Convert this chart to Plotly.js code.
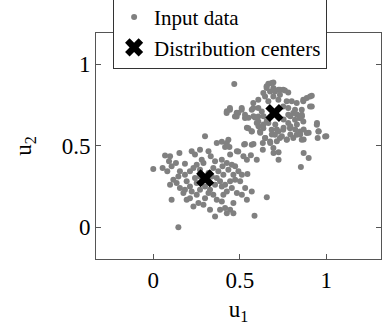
<!DOCTYPE html>
<html>
<head>
<meta charset="utf-8">
<script src="https://cdn.plot.ly/plotly-3.0.1.min.js"></script>
<style>html,body{margin:0;padding:0;background:#fff;}#chart{width:388px;height:327px;}</style>
</head>
<body>
<div id="chart"></div>
<script>
// Input data, lower cluster (u1, u2)
var lowU1 = [0.299,0.367,0.396,0.425,0.415,0.440,0.525,0.579,0.633,0.151,0.222,0.068,0.097,0.091,0.131,0.183,0.000,0.054,0.081,0.106,0.154,0.241,0.280,0.319,0.332,0.357,0.396,0.425,0.483,0.521,0.541,0.564,0.598,0.454,0.473,0.492,0.544,0.463,0.434,0.212,0.232,0.251,0.270,0.290,0.319,0.347,0.376,0.405,0.116,0.135,0.097,0.154,0.183,0.212,0.251,0.193,0.241,0.222,0.270,0.299,0.328,0.357,0.386,0.415,0.444,0.473,0.502,0.531,0.569,0.483,0.405,0.367,0.347,0.299,0.261,0.212,0.193,0.106,0.328,0.357,0.386,0.415,0.444,0.463,0.425,0.541,0.656,0.585,0.145,0.270,0.309,0.338,0.367,0.396,0.425,0.454,0.319,0.251,0.174,0.145,0.183,0.270,0.444,0.400,0.512,0.232,0.396,0.512,0.463,0.290];
var lowU2 = [0.557,0.516,0.523,0.516,0.492,0.492,0.506,0.510,0.516,0.455,0.465,0.439,0.434,0.404,0.393,0.389,0.357,0.363,0.342,0.373,0.342,0.445,0.414,0.465,0.434,0.404,0.414,0.393,0.465,0.434,0.414,0.441,0.414,0.383,0.373,0.342,0.326,0.322,0.352,0.342,0.363,0.383,0.352,0.393,0.332,0.363,0.342,0.322,0.291,0.270,0.260,0.240,0.230,0.250,0.270,0.281,0.301,0.219,0.230,0.250,0.230,0.260,0.281,0.260,0.281,0.291,0.281,0.240,0.219,0.209,0.199,0.168,0.199,0.178,0.148,0.178,0.168,0.168,0.107,0.066,0.107,0.117,0.107,0.086,0.086,0.168,0.184,0.070,0.000,0.311,0.291,0.311,0.301,0.250,0.219,0.240,0.209,0.199,0.209,0.311,0.322,0.475,0.445,0.373,0.322,0.127,0.158,0.199,0.148,0.137];
// Input data, upper cluster (u1, u2)
var highU1 = [0.425,0.483,0.550,0.579,0.598,0.637,0.541,0.569,0.618,0.685,0.676,0.714,0.743,0.772,0.792,0.820,0.849,0.869,0.898,0.946,0.956,1.000,0.869,0.869,0.898,0.853,0.695,0.724,0.724,0.633,0.637,0.656,0.705,0.753,0.792,0.830,0.859,0.792,0.753,0.714,0.830,0.647,0.608,0.983,0.468,0.684,0.655,0.694,0.723,0.751,0.665,0.694,0.655,0.675,0.703,0.732,0.761,0.780,0.732,0.694,0.646,0.607,0.665,0.723,0.771,0.800,0.829,0.867,0.916,0.887,0.906,0.858,0.819,0.780,0.751,0.578,0.569,0.607,0.627,0.511,0.491,0.443,0.424,0.472,0.530,0.607,0.780,0.809,0.858,0.848,0.482,0.530,0.588,0.607,0.665,0.636,0.617,0.549,0.569,0.684,0.723,0.751,0.790,0.780,0.819,0.848,0.867,0.887,0.848,0.829,0.858,0.809,0.771,0.732,0.703,0.675,0.646,0.694,0.954,0.950,0.993,0.945,0.434,0.491,0.530,0.569,0.636,0.578,0.443,0.511,0.482,0.867,0.906,0.916];
var highU2 = [0.711,0.701,0.670,0.680,0.639,0.629,0.609,0.588,0.578,0.568,0.516,0.527,0.557,0.537,0.568,0.598,0.568,0.598,0.578,0.639,0.588,0.557,0.537,0.455,0.424,0.369,0.455,0.459,0.414,0.475,0.680,0.650,0.629,0.660,0.680,0.691,0.680,0.619,0.609,0.598,0.629,0.547,0.619,0.996,0.877,0.883,0.863,0.853,0.842,0.842,0.879,0.887,0.853,0.832,0.832,0.842,0.838,0.826,0.812,0.801,0.801,0.781,0.771,0.781,0.771,0.771,0.761,0.771,0.806,0.791,0.740,0.720,0.720,0.730,0.740,0.761,0.720,0.730,0.709,0.720,0.699,0.720,0.699,0.679,0.669,0.679,0.689,0.699,0.689,0.669,0.679,0.689,0.672,0.648,0.638,0.607,0.587,0.607,0.587,0.597,0.587,0.597,0.607,0.638,0.658,0.669,0.648,0.577,0.587,0.566,0.536,0.546,0.536,0.546,0.566,0.525,0.546,0.485,0.587,0.546,0.556,0.628,0.536,0.464,0.509,0.505,0.822,0.730,0.730,0.730,0.699,0.781,0.801,0.740];
// Distribution centers
var centerU1 = [0.3, 0.7];
var centerU2 = [0.3, 0.7];
var xTicks = [0, 0.5, 1];
var yTicks = [0, 0.5, 1];

var inputU1 = lowU1.concat(highU1);
var inputU2 = lowU2.concat(highU2);

var FONT = 'Liberation Serif';
var traces = [
  {x: inputU1, y: inputU2, type: 'scatter', mode: 'markers', name: 'Input data',
   marker: {color: '#808080', size: 6}},
  {x: centerU1, y: centerU2, type: 'scatter', mode: 'markers', name: 'Distribution centers',
   marker: {color: '#000', size: 16, symbol: 'x'}}
];
var axisCommon = {
  showgrid: false, zeroline: false, showline: true, linecolor: '#555', linewidth: 1,
  mirror: 'ticks', ticks: 'inside', ticklen: 5, tickcolor: '#555', tickwidth: 1,
  tickfont: {family: FONT, size: 23, color: '#000'}
};
var layout = {
  width: 388, height: 327,
  margin: {l: 96, r: 7, t: 33, b: 68, autoexpand: false},
  paper_bgcolor: '#fff', plot_bgcolor: '#fff',
  font: {family: FONT, color: '#000'},
  showlegend: true,
  legend: {x: 0.06, xanchor: 'left', y: 1.164, yanchor: 'top',
    bgcolor: '#fff', bordercolor: '#333', borderwidth: 1, tracegroupgap: 0,
    font: {family: FONT, size: 21, color: '#000'}},
  xaxis: Object.assign({}, axisCommon, {range: [-0.331, 1.316], tickvals: xTicks, ticktext: xTicks.map(String),
    title: {text: 'u<sub>1</sub>', font: {family: FONT, size: 23}, standoff: 9}}),
  yaxis: Object.assign({}, axisCommon, {range: [-0.195, 1.19], tickvals: yTicks, ticktext: yTicks.map(String),
    title: {text: 'u<sub>2</sub>', font: {family: FONT, size: 23}, standoff: 23}})
};
Plotly.newPlot('chart', traces, layout, {staticPlot: true, displayModeBar: false});
</script>
</body>
</html>
